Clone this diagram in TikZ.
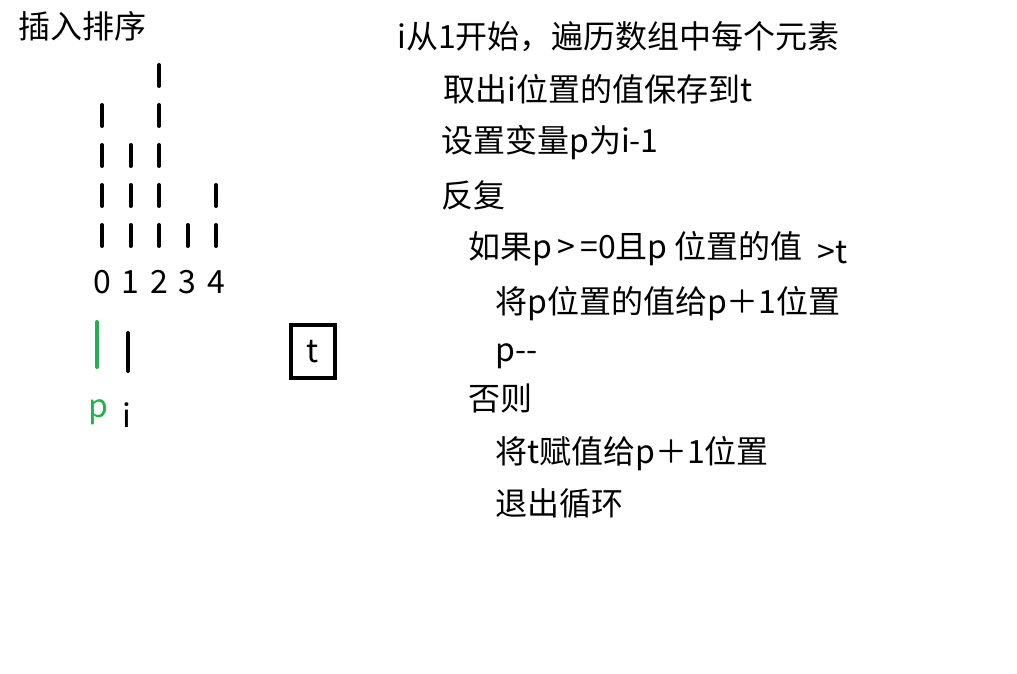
\documentclass[tikz,border=0pt]{standalone}
\usepackage{fontspec}
\setmainfont{Noto Sans CJK SC}
\usepackage{tikz}
\usetikzlibrary{positioning}
\definecolor{cgreen}{RGB}{34,177,76}

\begin{document}
\begin{tikzpicture}[
    x=1pt, y=-1pt,
    every node/.style={font=\fontsize{32}{38}\selectfont, inner sep=0pt},
    txt/.style={anchor=base west},
    bar/.style={line width=4pt, line cap=round},
]
    \useasboundingbox (0,0) rectangle (1017,674);

    % Title
    \node[txt] (title) at (18,39) {插入排序};

    % Array values as dashed columns
    \foreach \i/\n in {0/4, 1/3, 2/5, 3/1, 4/2} {
        \draw[bar, dash pattern=on 21pt off 19pt] (102+28.5*\i, 246) -- ++(0, {-(40*\n-19)});
        \node[anchor=base] (d\i) at (102+28.5*\i, 293) {\i};
    }

    % Pointers p and i
    \node[anchor=base, cgreen] (p) at (98,417) {p};
    \node[anchor=base] (i) at (127,427) {i};
    \draw[bar, cgreen] (97,322) -- (97,367);
    \draw[bar] (128,333) -- (128,371);

    % Temp box
    \node[draw, line width=4pt, minimum width=44pt, minimum height=53pt] (tbox) at (313,351.5) {t};

    % Steps
    \node[txt] (s1) at (397,49) {i从1开始，遍历数组中每个元素};
    \node[txt] (s2) at (443,102) {取出i位置的值保存到t};
    \node[txt] (s3) at (441,153) {设置变量p为i-1};
    \node[txt] (s4) at (441,207) {反复};
    \node[txt] (s5) at (468,258) {如果p\,>\,=0且p 位置的值 \ \raisebox{-5pt}{>t}};
    \node[txt] (s6) at (495,313) {将p位置的值给p＋1位置};
    \node[txt] (s7) at (495,361) {p-{}-};
    \node[txt] (s8) at (468,410) {否则};
    \node[txt] (s9) at (495,463) {将t赋值给p＋1位置};
    \node[txt] (s10) at (495,515) {退出循环};
\end{tikzpicture}
\end{document}
